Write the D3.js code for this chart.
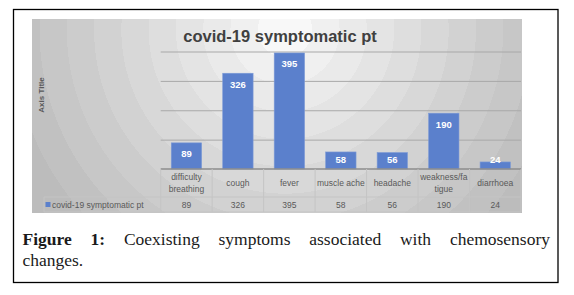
<!DOCTYPE html>
<html>
<head>
<meta charset="utf-8">
<script src="https://cdn.jsdelivr.net/npm/d3@7"></script>
<style>
  html, body { margin: 0; padding: 0; background: #fff; }
  svg { display: block; }
</style>
</head>
<body>
<div id="chart"></div>
<script>
// Coexisting symptoms – Excel style column chart with data table

const categories = ["difficulty breathing", "cough", "fever", "muscle ache", "headache", "weakness/fatigue", "diarrhoea"];
const tickLabels = [["difficulty", "breathing"], ["cough"], ["fever"], ["muscle ache"], ["headache"], ["weakness/fa", "tigue"], ["diarrhoea"]];
const values = [89, 326, 395, 58, 56, 190, 24];
const yTicks = [0, 100, 200, 300, 400];
const seriesName = "covid-19 symptomatic pt";
const chartTitle = "covid-19 symptomatic pt";
const captionBold = "Figure 1:";
const captionWords = ["Coexisting", "symptoms", "associated", "with", "chemosensory"];
const captionLine2 = "changes.";

const width = 574, height = 295;
const area = { left: 32, top: 19, right: 522, bottom: 213 };
const plot = { left: 160.7, right: 521, top: 51.5, bottom: 169 };
const tableRow1 = 197, tableRow2 = 212;
const barColor = "#5b80cc";
const textGray = "#595959";
const font = "'Liberation Sans', Arial, sans-serif";

const svg = d3.select("#chart").append("svg")
  .attr("width", width)
  .attr("height", height);

// Background radial gradient, banded like the Excel style fill
const defs = svg.append("defs");
const grad = defs.append("radialGradient")
  .attr("id", "bg")
  .attr("gradientUnits", "userSpaceOnUse")
  .attr("cx", 285).attr("cy", 30).attr("r", 300);
const bandShade = d3.scaleLinear().domain([0, 1]).range(["#f8f8f8", "#bcbcbc"]);
const nBands = 11;
d3.range(nBands).forEach(i => {
  const c = bandShade(Math.pow(i / (nBands - 1), 0.9));
  grad.append("stop").attr("offset", i / nBands).attr("stop-color", c);
  grad.append("stop").attr("offset", (i + 1) / nBands).attr("stop-color", c);
});

// Outer figure frame
svg.append("rect")
  .attr("x", 13.5).attr("y", 9.5)
  .attr("width", 558 - 13.5).attr("height", 282.5 - 9.5)
  .attr("fill", "none")
  .attr("stroke", "#000")
  .attr("stroke-width", 1.3);

svg.append("rect")
  .attr("x", area.left).attr("y", area.top)
  .attr("width", area.right - area.left).attr("height", area.bottom - area.top)
  .attr("fill", "url(#bg)");

const x = d3.scaleBand()
  .domain(categories)
  .range([plot.left, plot.right])
  .paddingInner(0.41)
  .paddingOuter(0.205);

const y = d3.scaleLinear()
  .domain([0, 400])
  .range([plot.bottom, plot.top]);

// Gridlines
const grid = svg.append("g")
  .attr("transform", `translate(${plot.left},0)`)
  .call(d3.axisLeft(y).tickValues(yTicks.slice(1)).tickSize(-(plot.right - plot.left)).tickFormat(""));
grid.select(".domain").remove();
grid.selectAll("line").attr("stroke", "#a8a8a8").attr("stroke-width", 1);

// Title
svg.append("text")
  .attr("x", 280).attr("y", 42)
  .attr("text-anchor", "middle")
  .style("font-family", font)
  .style("font-size", "16.5px")
  .style("font-weight", "bold")
  .attr("fill", "#404040")
  .text(chartTitle);

// Axis title
svg.append("text")
  .attr("transform", "translate(44,95) rotate(-90)")
  .attr("text-anchor", "middle")
  .style("font-family", font)
  .style("font-size", "8px")
  .style("font-weight", "bold")
  .attr("fill", textGray)
  .text("Axis Title");

// Bars
svg.selectAll("rect.bar")
  .data(values)
  .enter()
  .append("rect")
  .attr("class", "bar")
  .attr("x", (d, i) => x(categories[i]))
  .attr("y", d => y(d))
  .attr("width", x.bandwidth())
  .attr("height", d => y(0) - y(d))
  .attr("fill", barColor)
  .attr("stroke", "#7d9ad6")
  .attr("stroke-width", 0.6);

// Data labels
svg.selectAll("text.val")
  .data(values)
  .enter()
  .append("text")
  .attr("class", "val")
  .attr("x", (d, i) => x(categories[i]) + x.bandwidth() / 2)
  .attr("y", d => Math.min(y(d) + 11, plot.bottom - 10) + 3.5)
  .attr("text-anchor", "middle")
  .style("font-family", font)
  .style("font-size", "9.5px")
  .style("font-weight", "bold")
  .attr("fill", "#fff")
  .text(d => d);

// Data table
const step = x.step();
const colEdges = categories.map(c => x(c) - x.paddingInner() * step / 2);
colEdges.push(plot.right);
const tbl = svg.append("g");

tbl.append("line")
  .attr("x1", plot.left).attr("x2", plot.right)
  .attr("y1", plot.bottom).attr("y2", plot.bottom)
  .attr("stroke", "#8c8c8c").attr("stroke-width", 1.5);

tbl.selectAll("line.v")
  .data(colEdges)
  .enter()
  .append("line")
  .attr("x1", d => d).attr("x2", d => d)
  .attr("y1", plot.bottom).attr("y2", tableRow2)
  .attr("stroke", "#c4c4c4");

tbl.append("line")
  .attr("x1", 44).attr("x2", plot.right)
  .attr("y1", tableRow1).attr("y2", tableRow1)
  .attr("stroke", "#c4c4c4");
tbl.append("line")
  .attr("x1", 44).attr("x2", plot.right)
  .attr("y1", tableRow2).attr("y2", tableRow2)
  .attr("stroke", "#c4c4c4");
tbl.append("line")
  .attr("x1", 44).attr("x2", 44)
  .attr("y1", tableRow1).attr("y2", tableRow2)
  .attr("stroke", "#c4c4c4");

// Category labels
categories.forEach((c, i) => {
  const lines = tickLabels[i];
  const cx = x(c) + x.bandwidth() / 2;
  const mid = (plot.bottom + tableRow1) / 2;
  lines.forEach((t, j) => {
    tbl.append("text")
      .attr("x", cx)
      .attr("y", mid + (j - (lines.length - 1) / 2) * 12 + 3.2)
      .attr("text-anchor", "middle")
      .style("font-family", font)
      .style("font-size", "8.5px")
      .attr("fill", textGray)
      .text(t);
  });
});

// Value row
tbl.selectAll("text.tv")
  .data(values)
  .enter()
  .append("text")
  .attr("class", "tv")
  .attr("x", (d, i) => x(categories[i]) + x.bandwidth() / 2)
  .attr("y", (tableRow1 + tableRow2) / 2 + 3.2)
  .attr("text-anchor", "middle")
  .style("font-family", font)
  .style("font-size", "8.5px")
  .attr("fill", textGray)
  .text(d => d);

// Legend key in table
tbl.append("rect")
  .attr("x", 45.5).attr("y", 202)
  .attr("width", 5).attr("height", 5)
  .attr("fill", barColor);
tbl.append("text")
  .attr("x", 52).attr("y", (tableRow1 + tableRow2) / 2 + 3.2)
  .style("font-family", font)
  .style("font-size", "8.5px")
  .attr("fill", textGray)
  .text(seriesName);

// Caption, first line justified
const capFont = "'Liberation Serif', 'DejaVu Serif', serif";
const capY1 = 245, capY2 = 266, capLeft = 22.5, capRight = 550;
const words = captionBold.split(" ").concat(captionWords);
const wNodes = words.map((w, i) => svg.append("text")
  .attr("y", capY1)
  .style("font-family", capFont)
  .style("font-size", "17.5px")
  .style("font-weight", i < 2 ? "bold" : "normal")
  .attr("fill", "#1a1a1a")
  .text(w));
const widths = wNodes.map(n => n.node().getComputedTextLength());
const gap = (capRight - capLeft - d3.sum(widths)) / (words.length - 1);
let cursor = capLeft;
wNodes.forEach((n, i) => {
  n.attr("x", cursor);
  cursor += widths[i] + gap;
});

svg.append("text")
  .attr("x", capLeft).attr("y", capY2)
  .style("font-family", capFont)
  .style("font-size", "17.5px")
  .attr("fill", "#1a1a1a")
  .text(captionLine2);
</script>
</body>
</html>
